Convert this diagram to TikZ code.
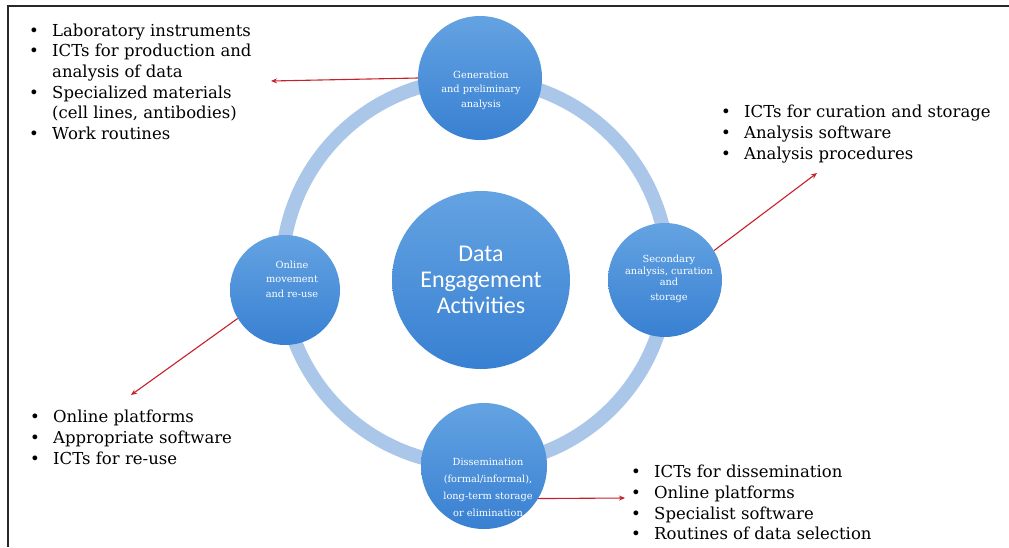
\documentclass[tikz,border=0pt]{standalone}
\usepackage{fontspec}
\setmainfont{DejaVu Serif}
\newfontfamily\calib{Carlito}
\usetikzlibrary{arrows.meta}
\definecolor{ringc}{RGB}{170,198,233}
\definecolor{ctop}{RGB}{100,163,226}
\definecolor{cbot}{RGB}{56,128,210}
\definecolor{arrc}{RGB}{200,32,42}
\definecolor{framec}{RGB}{40,40,40}
\newcommand{\bit}[1]{\strut\makebox[23pt][l]{•}#1}
\newcommand{\cont}[1]{\strut\hspace*{23pt}#1}
\tikzset{
  bubble/.style={circle, inner sep=0pt, draw=none, top color=ctop, bottom color=cbot},
  smalltxt/.style={text=white, font=\fontsize{9.8}{14.5}\selectfont, align=center, inner sep=0pt},
  listtxt/.style={font=\fontsize{16.5}{20.7}\selectfont, align=left, inner sep=0pt, anchor=north west, text=black},
  redarrow/.style={draw=arrc, line width=1.1pt, -{Stealth[length=6pt,width=5pt]}},
  ringline/.style={draw=ringc, line width=14pt},
  framel/.style={draw=framec, line width=2pt}
}
\begin{document}
\begin{tikzpicture}[x=1pt,y=-1pt]
\useasboundingbox (0,0) rectangle (1009,547);
\fill[white] (0,0) rectangle (1009,547);
\draw[framel] (8,547) -- (8,6) -- (1009,6);
% ring
\draw[ringline] (475,272) circle[radius=193];
% circles
\node[bubble, minimum size=124] (gen) at (480,78) {};
\node[bubble, minimum size=114] (sec) at (665,280) {};
\node[bubble, minimum size=110] (onl) at (285,290) {};
\node[bubble, minimum size=126] (dis) at (484,466) {};
\node[bubble, minimum size=178, text=white, align=center, font=\calib\fontsize{24}{26}\selectfont] (dea) at (481,280) {Data\\Engagement\\Activities};
% circle texts
\node[smalltxt] (gen-t) at (481,90) {Generation\\and preliminary\\analysis};
\node[smalltxt, font=\fontsize{9.8}{11.5}\selectfont] (sec-t) at (669,279) {Secondary\\analysis, curation\\and\\[3pt]storage};
\node[smalltxt] (onl-t) at (292,279) {Online\\movement\\and re-use};
\node[smalltxt, font=\fontsize{9.8}{17}\selectfont] (dis-t) at (488,487) {Dissemination\\(formal/informal),\\long-term storage\\or elimination};
% lists
\node[listtxt] (tl) at (29,21.5) {\bit{Laboratory instruments}\\\bit{ICTs for production and}\\\cont{analysis of data}\\\bit{Specialized materials}\\\cont{(cell lines, antibodies)}\\\bit{Work routines}};
\node[listtxt] (tr) at (721,103) {\bit{ICTs for curation and storage}\\\bit{Analysis software}\\\bit{Analysis procedures}};
\node[listtxt] (bl) at (30,408) {\bit{Online platforms}\\\bit{Appropriate software}\\\bit{ICTs for re-use}};
\node[listtxt] (br) at (631,463) {\bit{ICTs for dissemination}\\\bit{Online platforms}\\\bit{Specialist software}\\\bit{Routines of data selection}};
% arrows
\coordinate (ta) at (271,81);
\coordinate (ra) at (817,173);
\coordinate (la) at (131,395);
\coordinate (ba) at (625,498);
\draw[redarrow] (gen.west) -- (ta);
\draw[redarrow] (sec.31) -- (ra);
\draw[redarrow] (onl.211) -- (la);
\draw[redarrow] (dis.-31) -- (ba);
\end{tikzpicture}
\end{document}
